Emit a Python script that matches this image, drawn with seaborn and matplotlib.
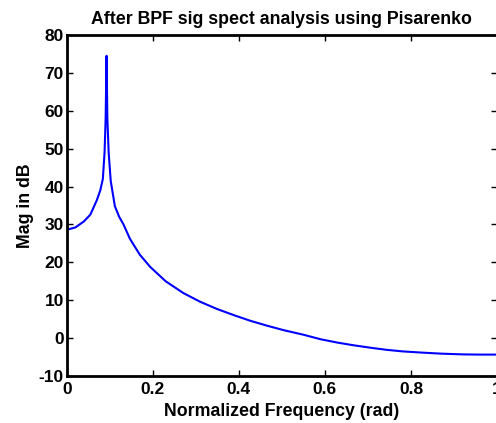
import matplotlib
matplotlib.use("Agg")
import matplotlib.pyplot as plt
import seaborn as sns
import pandas as pd

freq = [0, 0.02, 0.04, 0.055, 0.07, 0.078, 0.084, 0.088, 0.0905, 0.0926,
        0.0945, 0.0975, 0.1023, 0.112, 0.122, 0.132, 0.147, 0.17, 0.194,
        0.23, 0.271, 0.31, 0.349, 0.39, 0.426, 0.465, 0.504, 0.55, 0.59,
        0.63, 0.667, 0.71, 0.744, 0.78, 0.822, 0.87, 0.922, 0.96, 1.0]
mag = [28.6, 29.2, 30.8, 32.6, 36.4, 39.0, 42.0, 49.0, 58.0, 74.5,
       58.0, 49.0, 41.5, 34.8, 32.0, 30.0, 26.2, 22.0, 18.8,
       15.0, 11.9, 9.6, 7.7, 6.0, 4.6, 3.3, 2.1, 0.9, -0.3,
       -1.2, -1.9, -2.6, -3.1, -3.5, -3.8, -4.1, -4.3, -4.35, -4.35]

xticks = [0, 0.2, 0.4, 0.6, 0.8, 1.0]
xticklabels = ["0", "0.2", "0.4", "0.6", "0.8", "1"]
yticks = [-10, 0, 10, 20, 30, 40, 50, 60, 70, 80]

sns.set_theme(style="ticks")
plt.rcParams['font.family'] = ['Liberation Sans', 'DejaVu Sans']
plt.rcParams['font.weight'] = 'bold'
plt.rcParams['axes.unicode_minus'] = False
plt.rcParams['text.color'] = 'black'
plt.rcParams['axes.labelcolor'] = 'black'

df = pd.DataFrame({"freq": freq, "mag": mag})

fig = plt.figure(figsize=(4.96, 4.23), dpi=100)
ax = fig.add_axes([66.7 / 496, 1 - 376 / 423, (497 - 66.7) / 496, (376 - 35) / 423])
sns.lineplot(data=df, x="freq", y="mag", ax=ax, color="#0000ff", linewidth=1.5)

ax.set_xlim(0, 1)
ax.set_ylim(-10, 80)
ax.set_xticks(xticks)
ax.set_xticklabels(xticklabels)
ax.set_yticks(yticks)
for s in ax.spines.values():
    s.set_linewidth(2.0)
    s.set_color("black")
    s.set_visible(True)
ax.tick_params(direction="in", length=4, width=1.0, top=True, right=True,
               labelsize=12.5, colors="black", pad=2)
ax.tick_params(axis="x", pad=4)
for lab in ax.get_xticklabels() + ax.get_yticklabels():
    lab.set_fontweight("bold")
ax.set_title("After BPF sig spect analysis using Pisarenko", fontsize=12.8,
             fontweight="bold", pad=8, color="black")
ax.set_xlabel("Normalized Frequency (rad)", fontsize=12.8, fontweight="bold",
              labelpad=5, color="black")
ax.set_ylabel("Mag in dB", fontsize=12.8, fontweight="bold", labelpad=3.5, color="black")

fig.savefig("out.png", dpi=100)
